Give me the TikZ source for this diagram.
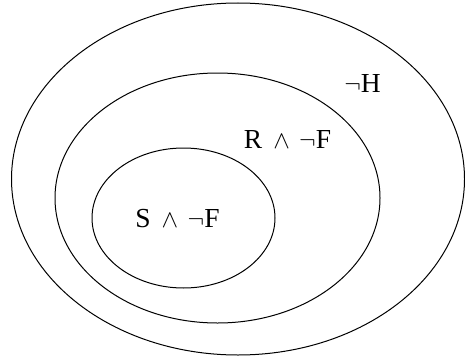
\documentclass[tikz,border=0pt]{standalone}
\usepackage{fontspec}
\setmainfont{Liberation Serif}
\usetikzlibrary{positioning}
\tikzset{
  setline/.style={line width=1pt},
  setlabel/.style={font=\fontsize{27.5pt}{31pt}\selectfont,inner sep=0pt}
}
\newcommand{\andnot}[2]{#1\hspace{0.4em}$\wedge$\hspace{0.34em}$\neg$#2}

\begin{document}
\begin{tikzpicture}[x=1pt,y=-1pt]
    \useasboundingbox (0,0) rectangle (465,361);

    % outer set: not H
    \draw[setline] (238,179) ellipse [x radius=226.5, y radius=176];
    \node[setlabel] (notH) at (362.5,83.5) {$\neg$H};

    % middle set: R and not F
    \draw[setline] (217.5,198) ellipse [x radius=162.5, y radius=125];
    \node[setlabel] (RnotF) at (287.5,139) {\andnot{R}{F}};

    % inner set: S and not F
    \draw[setline] (183.5,218) ellipse [x radius=91.5, y radius=70];
    \node[setlabel] (SnotF) at (177.5,219) {\andnot{S}{F}};
\end{tikzpicture}
\end{document}
